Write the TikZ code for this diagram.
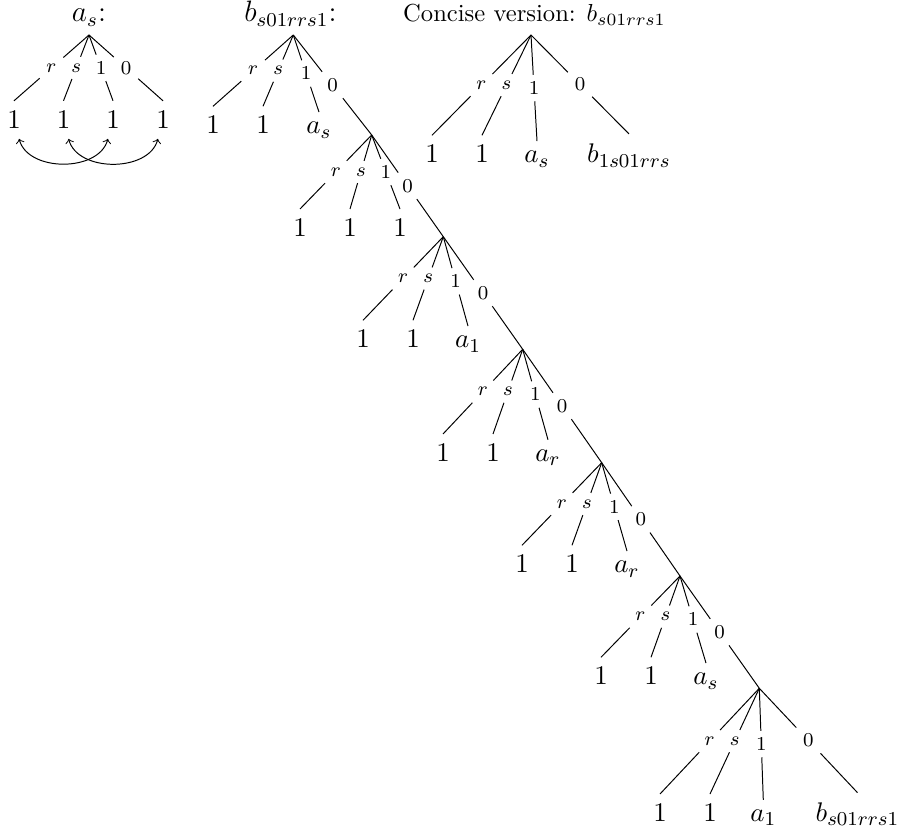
\documentclass[tikz,border=0pt]{standalone}
\usetikzlibrary{calc}
\newcommand\threeleaves[7]{%
  % #1 apex name, #2 baseline y, #3 x1, #4 x2, #5 x3, #6 third leaf text, #7 prefix
  \node[leaf] (#7a) at (#3,#2) {$1$};
  \node[leaf] (#7b) at (#4,#2) {$1$};
  \node[leaf] (#7c) at (#5,#2) {#6};
  \node[lab] (#7lr) at ($(#1)!0.5!(#7a.north)$) {$r$};
  \node[lab] (#7ls) at ($(#1)!0.5!(#7b.north)$) {$s$};
  \node[lab] (#7lo) at ($(#1)!0.5!(#7c.north)$) {$1$};
  \draw[edge] (#1) -- (#7lr) -- (#7a.north);
  \draw[edge] (#1) -- (#7ls) -- (#7b.north);
  \draw[edge] (#1) -- (#7lo) -- (#7c.north);
}
\begin{document}
\begin{tikzpicture}[x=0.4065pt,y=-0.4065pt,
  leaf/.style={font=\fontsize{10.95}{13.6}\selectfont, inner sep=4pt, anchor=base},
  lab/.style={font=\fontsize{8}{9.5}\selectfont, inner sep=2.6pt},
  ttl/.style={anchor=base, inner sep=0pt},
  edge/.style={line width=0.4pt}]
\useasboundingbox (0,0) rectangle (902,839);

% ---------- a_s tree ----------
\node[ttl, font=\fontsize{12}{14}\selectfont] (tA) at (89,21.7) {$a_s$:};
\coordinate (A) at (89,35);
\node[leaf] (Aa) at (14,128.5) {$1$};
\node[leaf] (Ab) at (63.5,128.5) {$1$};
\node[leaf] (Ac) at (113,128.5) {$1$};
\node[leaf] (Ad) at (163,128.5) {$1$};
\node[lab] (Alr) at ($(A)!0.5!(Aa.north)$) {$r$};
\node[lab] (Als) at ($(A)!0.5!(Ab.north)$) {$s$};
\node[lab] (Alo) at ($(A)!0.5!(Ac.north)$) {$1$};
\node[lab] (Alz) at ($(A)!0.5!(Ad.north)$) {$0$};
\draw[edge] (A) -- (Alr) -- (Aa.north);
\draw[edge] (A) -- (Als) -- (Ab.north);
\draw[edge] (A) -- (Alo) -- (Ac.north);
\draw[edge] (A) -- (Alz) -- (Ad.north);
\draw[edge,<->] (Aa) to[out=-75,in=-105] (Ac);
\draw[edge,<->] (Ab) to[out=-75,in=-105] (Ad);

% ---------- b tree (long version) ----------
\node[ttl, font=\fontsize{12}{14}\selectfont] (tB) at (290.5,21.7) {$b_{s01rrs1}$:};
\coordinate (L1) at (293.3,35);
\coordinate (L2) at (371.7,135);
\coordinate (L3) at (443.3,236.7);
\coordinate (L4) at (522.7,349.3);
\coordinate (L5) at (601.7,462.7);
\coordinate (L6) at (680,576);
\coordinate (L7) at (759.3,688.3);

\threeleaves{L1}{134}{213}{263}{319}{$a_s$}{P1}
\threeleaves{L2}{236.7}{300}{350}{400}{$1$}{P2}
\threeleaves{L3}{348}{363}{413}{468}{$a_1$}{P3}
\threeleaves{L4}{461.7}{443}{493}{548}{$a_r$}{P4}
\threeleaves{L5}{573}{522}{572}{627}{$a_r$}{P5}
\threeleaves{L6}{685}{601}{651}{706}{$a_s$}{P6}
\threeleaves{L7}{821.7}{660}{710}{763.3}{$a_1$}{P7}

\foreach \i/\j in {1/2,2/3,3/4,4/5,5/6,6/7}{
  \node[lab] (Z\i) at ($(L\i)!0.5!(L\j)$) {$0$};
  \draw[edge] (L\i) -- (Z\i) -- (L\j);
}
\node[leaf] (P7d) at (857.5,821.7) {$b_{s01rrs1}$};
\node[lab] (Z7) at ($(L7)!0.5!(P7d.north)$) {$0$};
\draw[edge] (L7) -- (Z7) -- (P7d.north);

% ---------- concise version ----------
\node[ttl, font=\fontsize{10}{12}\selectfont] (tC) at (534.5,21.7) {Concise version: $b_{s01rrs1}$};
\coordinate (C) at (531,35);
\threeleaves{C}{163}{432}{482}{537}{$a_s$}{Q}
\node[leaf] (Qd) at (629,163) {$b_{1s01rrs}$};
\node[lab] (Qlz) at ($(C)!0.5!(Qd.north)$) {$0$};
\draw[edge] (C) -- (Qlz) -- (Qd.north);
\end{tikzpicture}
\end{document}
